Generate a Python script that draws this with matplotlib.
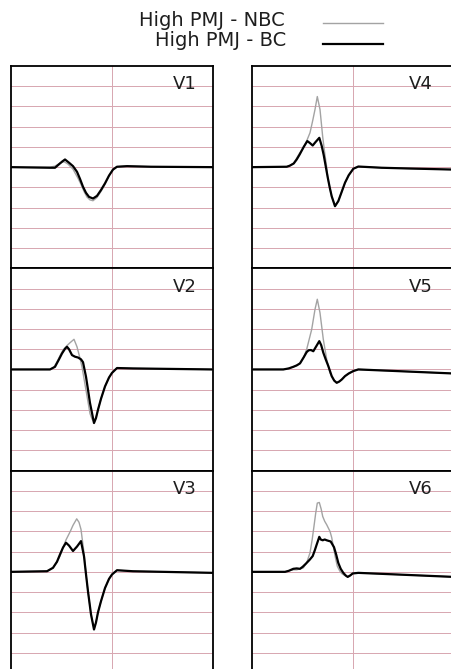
import matplotlib
matplotlib.use("Agg")
import matplotlib.pyplot as plt
from matplotlib.lines import Line2D

plt.rcParams['font.family'] = ['DejaVu Sans']

leads = ["V1", "V2", "V3", "V4", "V5", "V6"]
series_labels = ["High PMJ - NBC", "High PMJ - BC"]

# ---- V1 ----
v1_bc_t = [0, 39, 44, 47, 51, 54, 58, 62, 66, 69, 72, 75, 78, 82, 86, 90, 94, 98, 102, 106, 116, 140, 202]
v1_bc_y = [0, -0.03, -0.03, 0.1, 0.27, 0.38, 0.22, 0.05, -0.23, -0.58, -0.97, -1.27, -1.47, -1.55, -1.42, -1.13, -0.8, -0.42, -0.12, 0.02, 0.05, 0.02, 0]
v1_nbc_t = [0, 39, 44, 49, 53, 57, 62, 67, 70, 73, 76, 79, 82, 86, 90, 94, 98, 102, 106, 116, 140, 202]
v1_nbc_y = [0, 0, 0.05, 0.2, 0.27, 0.15, -0.1, -0.55, -0.85, -1.2, -1.48, -1.62, -1.66, -1.5, -1.2, -0.85, -0.42, -0.1, 0.02, 0.04, 0.02, 0]

# ---- V2 ----
v2_bc_t = [0, 39, 44, 48, 51, 54, 56, 58, 61, 64, 67, 70, 72, 75, 77, 79, 81, 83, 85, 87, 90, 94, 98, 101, 106, 122, 202]
v2_bc_y = [0, 0, 0.13, 0.5, 0.79, 1.02, 1.12, 1.0, 0.71, 0.63, 0.59, 0.5, 0.36, -0.36, -1.0, -1.66, -2.15, -2.65, -2.4, -1.99, -1.45, -0.84, -0.4, -0.17, 0.07, 0.05, 0]
v2_nbc_t = [0, 39, 43, 46, 49, 52, 56, 59, 63, 66, 69, 71, 73, 75, 77, 79, 81, 83, 85, 87, 90, 94, 98, 101, 106, 122, 202]
v2_nbc_y = [0, 0, 0.12, 0.38, 0.68, 0.96, 1.18, 1.32, 1.49, 1.12, 0.55, 0.13, -0.45, -1.03, -1.6, -2.18, -2.45, -2.6, -2.4, -1.99, -1.45, -0.84, -0.4, -0.17, 0.07, 0.05, 0]

# ---- V3 ----
v3_bc_t = [0, 36, 42, 46, 49, 52, 55, 58, 62, 66, 70, 73, 75, 77, 80, 83, 85, 87, 90, 94, 98, 101, 106, 122, 202]
v3_bc_y = [0, 0.03, 0.2, 0.5, 0.86, 1.2, 1.44, 1.3, 1.03, 1.25, 1.52, 0.77, -0.12, -0.97, -2.1, -2.85, -2.5, -2.0, -1.45, -0.8, -0.35, -0.13, 0.08, 0.03, -0.05]
v3_nbc_t = [0, 36, 42, 46, 49, 52, 55, 59, 62, 65.7, 68, 70, 73, 75, 77, 80, 83, 85, 87, 90, 94, 98, 101, 106, 122, 202]
v3_nbc_y = [0, 0.03, 0.2, 0.5, 0.78, 1.2, 1.58, 1.97, 2.3, 2.62, 2.45, 2.1, 0.94, -0.12, -0.97, -2.1, -2.8, -2.5, -2.0, -1.45, -0.8, -0.35, -0.13, 0.08, 0.03, -0.05]

# ---- V4 ----
v4_bc_t = [0, 35, 38, 42, 45, 48, 52, 55.6, 58, 61, 64, 67.6, 70, 72, 74, 76, 78, 80, 83.3, 86.6, 90, 93.3, 97, 101.6, 106.6, 130, 160, 202]
v4_bc_y = [0, 0.02, 0.07, 0.18, 0.38, 0.63, 1.0, 1.29, 1.2, 1.07, 1.25, 1.45, 1.05, 0.6, 0.05, -0.5, -1.0, -1.44, -1.93, -1.68, -1.22, -0.77, -0.4, -0.08, 0.03, -0.03, -0.07, -0.12]
v4_nbc_t = [0, 35, 38, 42, 45, 48, 51.7, 55, 58.3, 61, 63.3, 65.6, 68.3, 71, 73, 75, 76, 78, 80, 83.3, 86.6, 90, 93.3, 97, 101.6, 106.6, 130, 160, 202]
v4_nbc_y = [0, 0.02, 0.07, 0.2, 0.45, 0.7, 0.95, 1.3, 1.7, 2.3, 2.85, 3.49, 2.85, 1.5, 0.7, 0.0, -0.5, -1.0, -1.44, -1.93, -1.68, -1.22, -0.77, -0.4, -0.08, 0.03, -0.03, -0.07, -0.12]

# ---- V5 ----
v5_bc_t = [0, 31.6, 37, 41.6, 45, 48.3, 52, 55, 57, 59.3, 61.6, 64, 67.6, 69.5, 71.6, 74, 76.6, 80, 82.5, 85, 87.5, 90, 93.3, 97, 101.6, 106.6, 145, 202]
v5_bc_y = [0, 0, 0.05, 0.13, 0.2, 0.3, 0.6, 0.86, 0.95, 0.96, 0.9, 1.1, 1.4, 1.2, 0.83, 0.5, 0.17, -0.33, -0.55, -0.66, -0.6, -0.5, -0.33, -0.2, -0.08, 0, -0.08, -0.2]
v5_nbc_t = [0, 31.6, 37, 41.6, 45, 48.3, 52, 55, 60, 63.3, 65.6, 68.3, 71.6, 75, 78.3, 82.5, 85, 87.5, 90, 93.3, 97, 101.6, 106.6, 145, 202]
v5_nbc_y = [0, 0, 0.05, 0.13, 0.2, 0.3, 0.6, 1.0, 1.98, 2.97, 3.47, 2.8, 1.49, 0.5, -0.17, -0.55, -0.66, -0.6, -0.5, -0.33, -0.2, -0.08, 0, -0.08, -0.2]

# ---- V6 ----
v6_bc_t = [0, 33.3, 37, 41.6, 45, 48.3, 51, 54.3, 58, 61, 63, 65, 67.6, 69, 71, 73, 75, 77, 79, 82.3, 84.5, 86.6, 89, 91.6, 94, 96, 98.5, 101, 106.6, 145, 202]
v6_bc_y = [0, 0, 0.05, 0.15, 0.17, 0.15, 0.25, 0.41, 0.6, 0.78, 1.05, 1.35, 1.73, 1.6, 1.56, 1.6, 1.56, 1.53, 1.5, 1.22, 0.85, 0.44, 0.15, -0.05, -0.18, -0.25, -0.18, -0.08, -0.05, -0.13, -0.25]
v6_nbc_t = [0, 33.3, 37, 41.6, 45, 48.3, 51.7, 55, 58.3, 60.5, 62.3, 64, 65.6, 67.6, 69.5, 71, 73, 75, 78.3, 80, 81.6, 83.5, 85.6, 88, 90, 92, 94, 96, 98.5, 101, 106.6, 145, 202]
v6_nbc_y = [0, 0, 0.05, 0.1, 0.1, 0.15, 0.2, 0.45, 0.94, 1.6, 2.26, 2.9, 3.4, 3.43, 3.1, 2.74, 2.5, 2.33, 2.0, 1.7, 1.27, 0.75, 0.28, 0.05, -0.08, -0.15, -0.2, -0.25, -0.18, -0.08, -0.05, -0.13, -0.25]

traces = {
    "V1": (v1_nbc_t, v1_nbc_y, v1_bc_t, v1_bc_y),
    "V2": (v2_nbc_t, v2_nbc_y, v2_bc_t, v2_bc_y),
    "V3": (v3_nbc_t, v3_nbc_y, v3_bc_t, v3_bc_y),
    "V4": (v4_nbc_t, v4_nbc_y, v4_bc_t, v4_bc_y),
    "V5": (v5_nbc_t, v5_nbc_y, v5_bc_t, v5_bc_y),
    "V6": (v6_nbc_t, v6_nbc_y, v6_bc_t, v6_bc_y),
}

W, H = 451, 669
fig = plt.figure(figsize=(W / 100, H / 100), dpi=100)
fig.patch.set_facecolor("white")

GRID = "#d8a8b2"
GRAY = "#a3a3a3"
TEXT = "#1e1e1e"
col_left = [11, 251.7]
col_w = 202.0
row_top = [66, 268.3, 470.7]
row_h = 202.3

for i, lead in enumerate(leads):
    col = i // 3
    row = i % 3
    left = col_left[col] / W
    bottom = (H - row_top[row] - row_h) / H
    ax = fig.add_axes([left, bottom, col_w / W, row_h / H])
    ax.set_xlim(0, 202)
    ax.set_ylim(-5, 5)
    for yv in range(-4, 5):
        ax.axhline(yv, color=GRID, lw=0.5, zorder=1, antialiased=False)
    ax.axvline(101, color=GRID, lw=0.5, zorder=1, antialiased=False)
    nt, ny, bt, by = traces[lead]
    ax.plot(nt, ny, color=GRAY, lw=1.0, zorder=3, solid_joinstyle="round")
    ax.plot(bt, by, color="black", lw=1.6, zorder=4, solid_joinstyle="round")
    ax.set_xticks([])
    ax.set_yticks([])
    for s in ax.spines.values():
        s.set_linewidth(1.3)
        s.set_color("black")
    lx = 174 if col == 0 else 169
    ax.text(lx, 4.1, lead, ha="center", va="center", fontsize=13, color=TEXT, zorder=5)

# legend, drawn at the top of the figure
legend_text_right = [285, 286]
legend_baseline = [26, 45.7]
legend_line_y = [23.3, 44.3]
legend_styles = [dict(color=GRAY, lw=1.0), dict(color="black", lw=1.6)]
for lab, xr, yb, yl, st in zip(series_labels, legend_text_right, legend_baseline,
                               legend_line_y, legend_styles):
    fig.text(xr / W, 1 - yb / H, lab, ha="right", va="baseline", fontsize=14, color=TEXT)
    fig.add_artist(Line2D([323 / W, 383 / W], [1 - yl / H, 1 - yl / H],
                          transform=fig.transFigure, **st))

fig.savefig("out.png", dpi=100, facecolor="white")
